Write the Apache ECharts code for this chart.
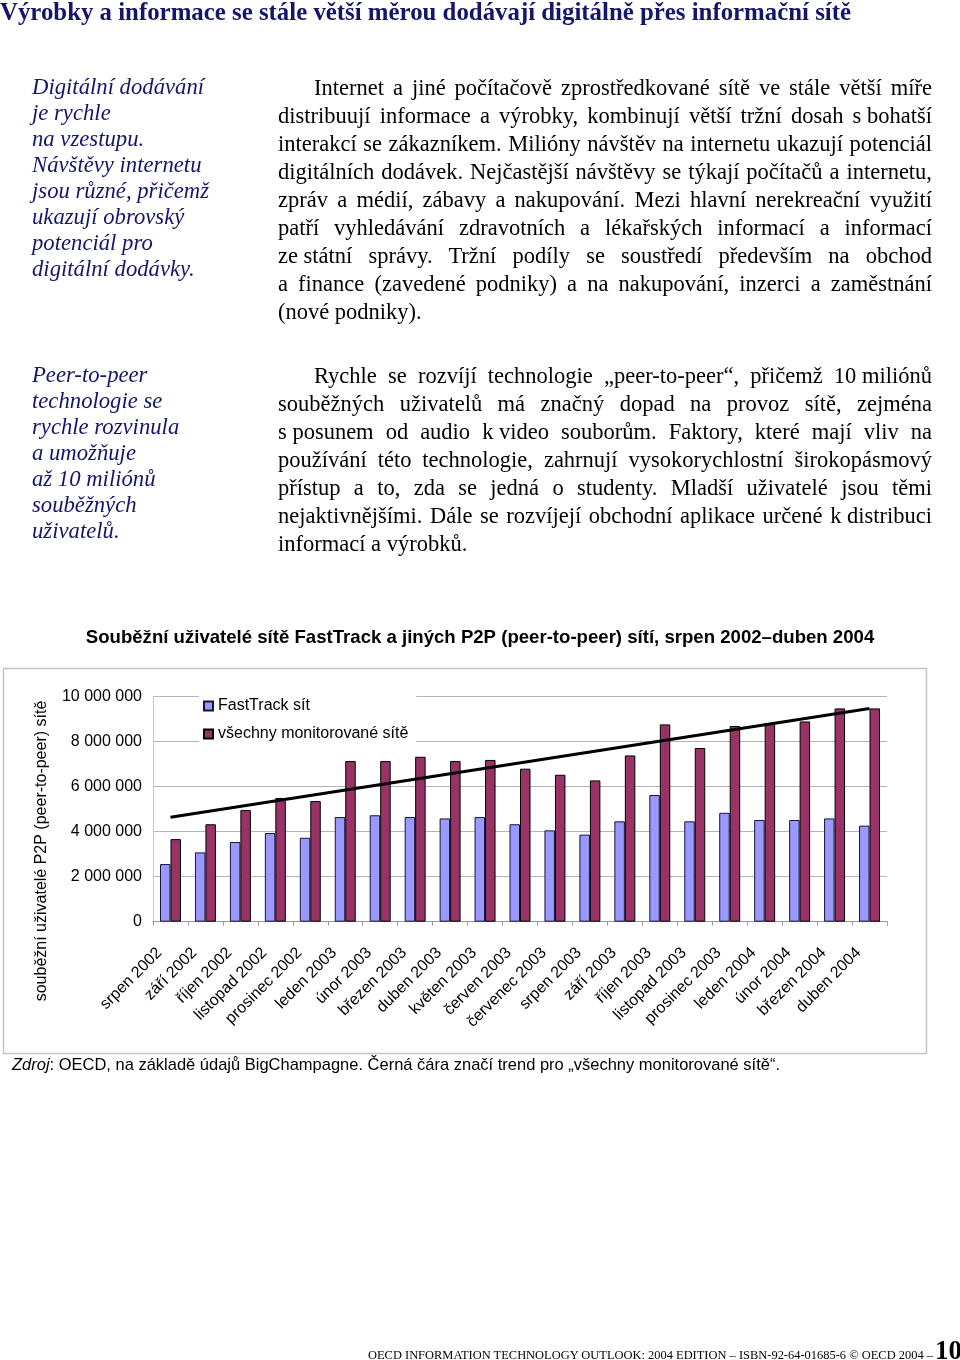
<!DOCTYPE html>
<html lang="cs">
<head>
<meta charset="utf-8">
<script src="https://cdn.jsdelivr.net/npm/echarts@6/dist/echarts.min.js"></script>
<style>
  html, body { margin:0; padding:0; background:#fff; }
  body { width:960px; height:1360px; position:relative; overflow:hidden; }
  #chart { position:absolute; left:0; top:0; width:960px; height:1360px; }
  .t { position:absolute; white-space:nowrap; z-index:2; pointer-events:none; }
  .fit { display:inline-block; transform-origin:0 50%; }
  .serif { font-family:"Liberation Serif","Times New Roman",serif; }
  .head { left:0; top:-4px; font-size:26px; font-weight:bold; color:#15156b; line-height:32px; }
  .note { left:32px; font-size:22.7px; font-style:italic; color:#15156b; line-height:26px; }
  .note div { height:26px; }
  .body { left:278px; width:654px; font-size:22.5px; color:#000; line-height:28px; }
  .body .ln { height:28px; }
  .body .ln span.w { display:inline-block; transform-origin:0 50%; }
  .nb { word-spacing:0 !important; }
  .src { left:12px; top:1055px; font-family:"Liberation Sans Narrow","Arial Narrow","Liberation Sans",Arial,sans-serif; font-size:17px; color:#000; line-height:20px; }
  .foot { left:368px; top:1347px; font-size:13px; line-height:16px; color:#000; }
  .pg { left:935px; top:1335px; font-size:27px; font-weight:bold; line-height:30px; color:#000; }
</style>
</head>
<body>
<div id="chart"></div>

<div class="t serif head"><span class="fit" data-w="851">Výrobky a informace se stále větší měrou dodávají digitálně přes informační sítě</span></div>

<div class="t serif note" style="top:74px">
  <div>Digitální dodávání</div><div>je rychle</div><div>na vzestupu.</div><div>Návštěvy internetu</div>
  <div>jsou různé, přičemž</div><div>ukazují obrovský</div><div>potenciál pro</div><div>digitální dodávky.</div>
</div>

<div class="t serif body" style="top:74px">
  <div class="ln"><span class="w j" data-w="618" style="margin-left:36px">Internet a jiné počítačově zprostředkované sítě ve stále větší míře</span></div>
  <div class="ln"><span class="w j" data-w="654">distribuují informace a výrobky, kombinují větší tržní dosah <span class="nb">s bohatší</span></span></div>
  <div class="ln"><span class="w j" data-w="654">interakcí se zákazníkem. Milióny návštěv na internetu ukazují potenciál</span></div>
  <div class="ln"><span class="w j" data-w="654">digitálních dodávek. Nejčastější návštěvy se týkají počítačů a internetu,</span></div>
  <div class="ln"><span class="w j" data-w="654">zpráv a médií, zábavy a nakupování. Mezi hlavní nerekreační využití</span></div>
  <div class="ln"><span class="w j" data-w="654">patří vyhledávání zdravotních a lékařských informací a informací</span></div>
  <div class="ln"><span class="w j" data-w="654"><span class="nb">ze státní</span> správy. Tržní podíly se soustředí především na obchod</span></div>
  <div class="ln"><span class="w j" data-w="654">a finance (zavedené podniky) a na nakupování, inzerci a zaměstnání</span></div>
  <div class="ln"><span class="w">(nové podniky).</span></div>
</div>

<div class="t serif note" style="top:362px">
  <div>Peer-to-peer</div><div>technologie se</div><div>rychle rozvinula</div><div>a umožňuje</div>
  <div>až 10 miliónů</div><div>souběžných</div><div>uživatelů.</div>
</div>

<div class="t serif body" style="top:362px">
  <div class="ln"><span class="w j" data-w="618" style="margin-left:36px">Rychle se rozvíjí technologie „peer-to-peer“, přičemž <span class="nb">10 miliónů</span></span></div>
  <div class="ln"><span class="w j" data-w="654">souběžných uživatelů má značný dopad na provoz sítě, zejména</span></div>
  <div class="ln"><span class="w j" data-w="654"><span class="nb">s posunem</span> od audio <span class="nb">k video</span> souborům. Faktory, které mají vliv na</span></div>
  <div class="ln"><span class="w j" data-w="654">používání této technologie, zahrnují vysokorychlostní širokopásmový</span></div>
  <div class="ln"><span class="w j" data-w="654">přístup a to, zda se jedná o studenty. Mladší uživatelé jsou těmi</span></div>
  <div class="ln"><span class="w j" data-w="654">nejaktivnějšími. Dále se rozvíjejí obchodní aplikace určené <span class="nb">k distribuci</span></span></div>
  <div class="ln"><span class="w">informací a výrobků.</span></div>
</div>

<div class="t src"><span class="fit" data-w="768"><i>Zdroj</i>: OECD, na základě údajů BigChampagne. Černá čára značí trend pro „všechny monitorované sítě“.</span></div>

<div class="t serif foot"><span class="fit" data-w="565">OECD INFORMATION TECHNOLOGY OUTLOOK: 2004 EDITION – ISBN-92-64-01685-6 © OECD 2004 –</span></div>
<div class="t serif pg">10</div>

<script>
// ---- data ----
const categories = ['srpen 2002','září 2002','říjen 2002','listopad 2002','prosinec 2002','leden 2003','únor 2003',
  'březen 2003','duben 2003','květen 2003','červen 2003','červenec 2003','srpen 2003','září 2003','říjen 2003',
  'listopad 2003','prosinec 2003','leden 2004','únor 2004','březen 2004','duben 2004'];
const fastTrack = [2560000,3080000,3540000,3940000,3730000,4650000,4730000,4650000,4590000,4650000,4330000,
  4060000,3870000,4460000,5630000,4460000,4840000,4520000,4520000,4590000,4270000];
const allNetworks = [3670000,4330000,4960000,5500000,5360000,7140000,7140000,7330000,7140000,7190000,6800000,
  6530000,6280000,7390000,8770000,7720000,8700000,8830000,8900000,9480000,9480000];
// trend line end points: first and last month
const trendStart = 4640000;
const trendEnd = 9480000;
const trend = categories.map((c, i) => i === 0 ? trendStart : (i === categories.length - 1 ? trendEnd : null));
const yTicks = [0, 2000000, 4000000, 6000000, 8000000, 10000000];

const seriesNames = ['FastTrack sít', 'všechny monitorované sítě'];
const chartTitle = 'Souběžní uživatelé sítě FastTrack a jiných P2P (peer-to-peer) sítí, srpen 2002–duben 2004';
const yAxisTitle = 'souběžní uživatelé P2P (peer-to-peer) sítě';

const SANS = '"Liberation Sans", Arial, sans-serif';
const fmt = v => String(v).replace(/\B(?=(\d{3})+(?!\d))/g, ' ');

const chart = echarts.init(document.getElementById('chart'), null, {renderer:'canvas'});
chart.setOption({
  animation: false,
  backgroundColor: '#fff',
  textStyle: { fontFamily: SANS },
  title: {
    text: chartTitle, left: 'center', top: 623,
    textStyle: { fontSize: 18.6, fontWeight: 'bold', color: '#000', fontFamily: SANS }
  },
  graphic: [
    { type:'rect', z:0, shape:{ x:3.5, y:668.5, width:923, height:385 },
      style:{ fill:null, stroke:'#c4c4c4', lineWidth:1.5 } },
    { type:'text', x:42, y:851, rotation: Math.PI/2,
      style:{ text: yAxisTitle, fontSize:16, fontFamily:SANS, fill:'#000', align:'center', verticalAlign:'middle' } }
  ],
  legend: {
    data: seriesNames, orient:'vertical', left:199, top:692,
    itemWidth:9, itemHeight:9, itemGap:12, icon:'rect',
    padding:[6,8,6,4], backgroundColor:'#fff',
    textStyle:{ fontSize:16, color:'#000', fontFamily:SANS }
  },
  grid: { left:153, right:73, top:696.7, bottom:438.3 },
  xAxis: {
    type:'category', data: categories,
    axisLine:{ lineStyle:{ color:'#999', width:1 } },
    axisTick:{ show:true, length:4, lineStyle:{ color:'#999' } },
    axisLabel:{ rotate:45, interval:0, fontSize:16, color:'#000', margin:29, fontFamily:SANS,
      verticalAlign:'bottom', padding:[0,7.5,0,0] }
  },
  yAxis: {
    type:'value', min:yTicks[0], max:yTicks[yTicks.length-1], interval:yTicks[1]-yTicks[0],
    axisLine:{ show:true, lineStyle:{ color:'#c8c8c8' } },
    axisTick:{ show:false },
    splitLine:{ lineStyle:{ color:'#b4b4b4', width:1 } },
    axisLabel:{ fontSize:16, color:'#000', margin:11, fontFamily:SANS, formatter: fmt }
  },
  series: [
    { name: seriesNames[0], type:'bar', data: fastTrack, barGap:'0%', barCategoryGap:'40%',
      itemStyle:{ color:'#9999FF', borderColor:'#14143c', borderWidth:1 } },
    { name: seriesNames[1], type:'bar', data: allNetworks, barGap:'0%', barCategoryGap:'40%',
      itemStyle:{ color:'#993366', borderColor:'#000', borderWidth:1 } },
    { name:'trend', type:'line', data: trend, connectNulls:true, symbol:'none', z:5,
      lineStyle:{ color:'#000', width:3 } }
  ]
});

function layoutText() {
  document.querySelectorAll('.fit').forEach(el => {
    el.style.transform = 'none';
    const w = el.getBoundingClientRect().width, W = +el.dataset.w;
    if (w > 0) el.style.transform = 'scaleX(' + (W / w) + ')';
  });
  document.querySelectorAll('.j').forEach(el => {
    el.style.transform = 'none'; el.style.wordSpacing = '0px';
    const w = el.getBoundingClientRect().width, W = +el.dataset.w;
    let n = 0;
    el.childNodes.forEach(nd => { if (nd.nodeType === 3) n += (nd.textContent.match(/ /g) || []).length; });
    if (w < W && n > 0) el.style.wordSpacing = ((W - w) / n) + 'px';
    else if (w > W) el.style.transform = 'scaleX(' + (W / w) + ')';
  });
}
layoutText();
if (document.fonts && document.fonts.ready) document.fonts.ready.then(layoutText);
</script>
</body>
</html>
